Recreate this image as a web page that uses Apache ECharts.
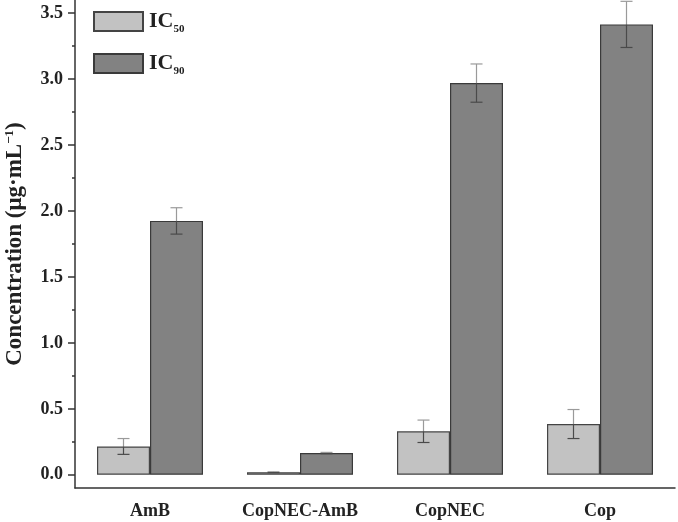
<!DOCTYPE html>
<html>
<head>
<meta charset="utf-8">
<script src="https://cdn.jsdelivr.net/npm/echarts@6/dist/echarts.min.js"></script>
<style>
  html, body { margin: 0; padding: 0; background: #fff; }
  #main { width: 678px; height: 522px; }
</style>
</head>
<body>
<div id="main"></div>
<script>
  // data
  var categories = ['AmB', 'CopNEC-AmB', 'CopNEC', 'Cop'];
  var ic50 = [0.215, 0.02, 0.33, 0.385];
  var ic50Err = [0.06, 0.003, 0.085, 0.11];
  var ic90 = [1.925, 0.165, 2.97, 3.415];
  var ic90Err = [0.1, 0.005, 0.145, 0.175];
  var majorTicks = [0, 0.5, 1.0, 1.5, 2.0, 2.5, 3.0, 3.5];
  var minorTicks = [0.25, 0.75, 1.25, 1.75, 2.25, 2.75, 3.25];

  var FONT = 'Liberation Serif';
  var BAR_W = 53;

  function errData(vals, errs) {
    return vals.map(function (v, i) { return [i, v, errs[i]]; });
  }

  function errorBar(offset) {
    return function (params, api) {
      var i = api.value(0), v = api.value(1), e = api.value(2);
      var top = api.coord([i, v + e]);
      var mid = api.coord([i, v]);
      var bot = api.coord([i, v - e]);
      var x = top[0] + offset;
      var cap = 6;
      var light = {stroke: '#9a9a9a', lineWidth: 1.2};
      var dark = {stroke: '#4a4a4a', lineWidth: 1.2};
      return {
        type: 'group',
        children: [
          {type: 'line', shape: {x1: x, y1: top[1], x2: x, y2: mid[1]}, style: light},
          {type: 'line', shape: {x1: x - cap, y1: top[1], x2: x + cap, y2: top[1]}, style: light},
          {type: 'line', shape: {x1: x, y1: mid[1], x2: x, y2: bot[1]}, style: dark},
          {type: 'line', shape: {x1: x - cap, y1: bot[1], x2: x + cap, y2: bot[1]}, style: dark}
        ]
      };
    };
  }

  var myChart = echarts.init(document.getElementById('main'));
  var option = {
    animation: false,
    backgroundColor: '#fff',
    textStyle: {fontFamily: FONT},
    grid: {left: 75, right: 3, top: 0, bottom: 34, containLabel: false, outerBoundsMode: 'none'},
    legend: {
      orient: 'vertical',
      left: 93,
      top: 8,
      padding: 0,
      icon: 'rect',
      itemWidth: 49,
      itemHeight: 19,
      itemGap: 15,
      data: ['IC50', 'IC90'],
      formatter: function (name) {
        return '{a|IC}{b|' + name.slice(2) + '}';
      },
      textStyle: {
        padding: [0, 0, 0, 1],
        rich: {
          a: {fontFamily: FONT, fontWeight: 'bold', fontSize: 22, lineHeight: 19, color: '#222'},
          b: {fontFamily: FONT, fontWeight: 'bold', fontSize: 11, lineHeight: 19, color: '#222', padding: [16, 0, 0, 0]}
        }
      }
    },
    xAxis: [
      {
        type: 'category',
        data: categories,
        axisLine: {onZero: false, lineStyle: {color: '#333', width: 1.5}},
        axisTick: {alignWithLabel: true, length: 6, lineStyle: {color: '#333', width: 1.5}},
        axisLabel: {
          interval: 0, hideOverlap: false,
          fontFamily: FONT, fontWeight: 'bold', fontSize: 18, color: '#222', margin: 14
        }
      },
      {
        type: 'category',
        data: categories,
        position: 'bottom',
        axisLine: {show: false, onZero: false},
        axisTick: {inside: true, length: 3, lineStyle: {color: '#333', width: 1.5}},
        axisLabel: {show: false}
      }
    ],
    yAxis: [
      {
        type: 'value',
        min: -0.1,
        max: 3.6,
        name: '{t|Concentration (μg·mL}{s|−1}{t|)}',
        nameLocation: 'middle',
        nameGap: 47,
        nameTextStyle: {
          rich: {
            t: {fontFamily: FONT, fontWeight: 'bold', fontSize: 23, color: '#222'},
            s: {fontFamily: FONT, fontWeight: 'bold', fontSize: 13, color: '#222', padding: [0, 0, 12, 0]}
          }
        },
        splitLine: {show: false},
        axisLine: {show: true, onZero: false, lineStyle: {color: '#333', width: 1.5}},
        axisTick: {show: true, length: 7, customValues: majorTicks, lineStyle: {color: '#333', width: 1.5}},
        axisLabel: {
          customValues: majorTicks,
          fontFamily: FONT, fontWeight: 'bold', fontSize: 18, color: '#222', margin: 12,
          formatter: function (v) { return v.toFixed(1); }
        }
      },
      {
        type: 'value',
        min: -0.1,
        max: 3.6,
        position: 'left',
        offset: 0,
        splitLine: {show: false},
        axisLine: {show: false, onZero: false},
        axisTick: {show: true, length: 3, customValues: minorTicks, lineStyle: {color: '#333', width: 1.5}},
        axisLabel: {show: false}
      }
    ],
    series: [
      {
        name: 'IC50',
        type: 'bar',
        barWidth: BAR_W,
        barGap: '0%',
        itemStyle: {color: '#c2c2c2', borderColor: '#444', borderWidth: 1.2},
        data: ic50
      },
      {
        name: 'IC90',
        type: 'bar',
        barWidth: BAR_W,
        barGap: '0%',
        itemStyle: {color: '#828282', borderColor: '#3a3a3a', borderWidth: 1.2},
        data: ic90
      },
      {
        type: 'custom',
        renderItem: errorBar(-BAR_W / 2),
        data: errData(ic50, ic50Err),
        z: 10
      },
      {
        type: 'custom',
        renderItem: errorBar(BAR_W / 2),
        data: errData(ic90, ic90Err),
        z: 10
      }
    ]
  };
  myChart.setOption(option);
</script>
</body>
</html>
